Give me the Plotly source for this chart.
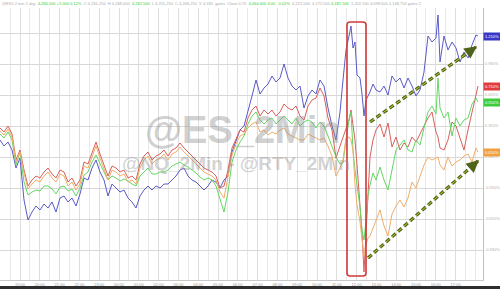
import plotly.graph_objects as go

# bar positions (time axis, in bars)
t = [0,4,8,12,16,20,24,28,32,36,40,44,48,52,56,60,64,68,72,76,80,84,88,92,96,100,104,108,112,116,
     120,124,128,132,136,140,144,148,152,156,160,164,168,172,176,180,184,188,192,196,200,204,208,212,
     216,220,224,228,232,236,240,244,248,252,256,260,264,268,272,276,280,284,288,292,296,300,304,308,
     312,316,320,324,328,332,336,340,343,346,349,351,353,355,357,360,362,364,366,368,370,373,376,380,
     384,388,392,396,400,404,408,412,416,420,424,428,432,436,438,440,444,448,452,456,460,464,468,472,476,478]

# % change series
es = [0.17,0.11,0.15,0.07,-0.11,-0.01,-0.43,-0.63,-0.55,-0.49,-0.53,-0.47,-0.51,-0.45,-0.55,-0.41,-0.39,-0.45,
      -0.41,-0.49,-0.37,-0.21,-0.23,-0.11,-0.03,-0.15,-0.23,-0.39,-0.27,-0.31,-0.35,-0.33,-0.41,-0.45,-0.51,
      -0.39,-0.33,-0.29,-0.33,-0.29,-0.31,-0.27,-0.27,-0.23,-0.19,-0.13,-0.11,-0.19,-0.23,-0.25,-0.29,-0.33,
      -0.29,-0.23,-0.25,-0.31,-0.23,-0.19,0.05,0.17,0.27,0.31,0.45,0.61,0.77,0.63,0.69,0.73,0.81,0.75,0.79,
      0.93,0.79,0.71,0.67,0.71,0.49,0.61,0.67,0.63,0.77,0.71,0.49,0.31,0.17,0.45,0.77,1.07,1.21,1.31,1.09,
      1.15,0.82,0.79,0.63,0.41,0.57,0.61,0.65,0.73,0.67,0.65,0.71,0.62,0.81,0.75,0.79,0.69,0.79,0.71,0.61,
      0.67,0.85,1.21,1.15,1.19,1.42,0.95,1.21,1.07,1.15,1.09,0.95,1.05,0.99,1.12,1.22,1.21]
red = [0.29,0.25,0.31,0.23,-0.03,0.07,-0.13,-0.29,-0.23,-0.19,-0.21,-0.15,-0.11,-0.17,-0.21,-0.13,-0.15,-0.25,
       -0.21,-0.29,-0.23,-0.05,-0.07,0.05,0.15,0.03,-0.07,-0.19,-0.09,-0.11,-0.15,-0.13,-0.21,-0.19,-0.23,
       -0.07,0.01,0.05,-0.03,0.01,0.03,0.07,0.01,0.07,0.09,0.14,0.09,0.05,0.01,-0.03,-0.07,-0.11,-0.13,-0.15,
       -0.19,-0.31,-0.29,-0.13,0.09,0.19,0.27,0.25,0.39,0.47,0.51,0.41,0.47,0.43,0.47,0.41,0.45,0.53,0.49,
       0.47,0.51,0.41,0.37,0.51,0.57,0.59,0.69,0.61,0.39,0.27,-0.01,0.11,0.20,0.27,0.37,0.47,0.31,0.17,-0.08,
       -0.48,-0.76,-1.15,-0.75,-0.33,0.00,0.17,0.27,0.33,0.20,0.34,0.10,0.20,0.07,0.14,0.10,0.20,0.15,0.23,
       0.31,0.39,0.45,0.25,0.20,0.09,0.07,0.17,0.35,0.31,0.19,0.07,0.27,0.45,0.65,0.71]
green = [0.23,0.19,0.25,0.17,-0.08,0.05,-0.25,-0.38,-0.35,-0.33,-0.34,-0.29,-0.29,-0.32,-0.37,-0.30,-0.29,-0.34,
         -0.32,-0.39,-0.31,-0.18,-0.15,-0.05,0.02,-0.07,-0.15,-0.23,-0.19,-0.21,-0.24,-0.22,-0.24,-0.27,-0.29,
         -0.19,-0.15,-0.11,-0.17,-0.17,-0.15,-0.15,-0.13,-0.09,-0.07,-0.05,-0.08,-0.10,-0.13,-0.16,-0.20,-0.23,
         -0.21,-0.23,-0.29,-0.43,-0.55,-0.35,-0.05,0.07,0.15,0.21,0.33,0.41,0.45,0.37,0.33,0.37,0.39,0.33,0.37,
         0.41,0.37,0.33,0.39,0.31,0.35,0.37,0.35,0.29,0.35,0.31,0.21,0.11,0.00,-0.07,-0.06,0.17,0.37,0.45,0.07,
         -0.13,-0.29,-0.50,-0.73,-0.83,-0.63,-0.38,-0.28,-0.16,-0.23,-0.10,-0.23,-0.33,-0.13,0.07,0.12,0.17,
         0.07,0.05,0.17,0.12,0.29,0.45,0.51,0.43,0.79,0.49,0.39,0.45,0.21,0.39,0.31,0.37,0.39,0.53,0.59,0.55]
orange = [0.26,0.22,0.28,0.20,-0.05,0.05,-0.16,-0.32,-0.27,-0.23,-0.25,-0.19,-0.15,-0.21,-0.25,-0.17,-0.19,-0.29,
          -0.25,-0.33,-0.27,-0.09,-0.11,0.01,0.11,-0.01,-0.11,-0.23,-0.13,-0.15,-0.19,-0.17,-0.25,-0.23,-0.27,
          -0.11,-0.03,0.01,-0.07,-0.03,-0.01,0.03,-0.03,0.03,0.05,0.10,0.05,0.01,-0.03,-0.07,-0.11,-0.15,-0.17,
          -0.19,-0.23,-0.35,-0.41,-0.21,0.02,0.13,0.21,0.23,0.29,0.33,0.35,0.25,0.27,0.22,0.25,0.23,0.27,0.29,
          0.23,0.21,0.19,0.17,0.17,0.23,0.21,0.19,0.17,0.19,0.11,0.01,-0.19,-0.11,-0.03,0.19,0.20,0.17,0.07,
          -0.28,-0.48,-0.65,-0.83,-0.99,-0.88,-0.81,-0.79,-0.71,-0.65,-0.53,-0.69,-0.79,-0.57,-0.49,-0.43,-0.50,
          -0.41,-0.25,-0.31,-0.19,-0.08,0.00,-0.03,-0.01,0.00,-0.08,-0.13,0.00,-0.09,-0.05,-0.03,0.01,0.03,-0.05,
          0.09,0.05]

tick_labels = ["19:00","20:00","21:00","22:00","23:00","00:00","01:00","02:00","03:00","04:00","05:00","06:00",
               "07:00","08:00","09:00","10:00","11:00","12:00","13:00","14:00","15:00","16:00","17:00"]

# right-axis grid levels and their labels (top one hidden behind the value tag)
grid_levels = [1.24, 0.93, 0.62, 0.31, 0.0, -0.31, -0.62, -0.93]
grid_labels = ["", "0.930%", "0.620%", "0.310%", "0.000%", "-0.310%", "-0.620%", "-0.930%"]

series = [("ES", es, "#5a5ac8", "#3838c8"),
          ("RTY", red, "#d8605c", "#e03c3c"),
          ("NQ", green, "#62d862", "#3ccc3c"),
          ("YM", orange, "#f2ad68", "#f0a040")]

fig = go.Figure()
for name, vals, col, _ in series:
    fig.add_trace(go.Scatter(x=t, y=vals, mode="lines", name=name,
                             line=dict(color=col, width=1), showlegend=False))

# watermarks
fig.add_annotation(x=242, y=0.27, xref="x", yref="y", text="<b>@ES_2Min</b>", showarrow=False,
                   font=dict(family="Liberation Sans", size=38, color="rgba(150,150,150,0.45)"))
fig.add_annotation(x=236, y=-0.06, xref="x", yref="y", text="<b>@NQ_2Min - @RTY_2Min</b>", showarrow=False,
                   font=dict(family="Liberation Sans", size=19, color="rgba(150,150,150,0.42)"))

# right-edge value labels
for name, vals, col, lab in series:
    fig.add_annotation(x=1.0, xref="paper", y=vals[-1], yref="y", xanchor="left", xshift=0,
                       text=f"{vals[-1]:.3f}%", showarrow=False, bgcolor=lab, borderpad=1,
                       font=dict(family="Liberation Sans", size=4, color="white"))

# header strip
hdr = ("<span style='color:#aaa'>@ES1 2 min 1 day</span>  <span style='color:#3c3'>4,266,500 +5.000 0.12%</span>"
       "<span style='color:#aaa'>  O 4,261,250  H 4,268,000 </span> <span style='color:#3c3'>4,262,500</span>"
       "<span style='color:#aaa'>  L 4,251,250  C 4,266,250  V 4,330  gates  Close 0.70</span>"
       "  <span style='color:#3c3'>4,064,000 4.00   0.02%</span><span style='color:#aaa'>  4,221,500  4,172,500 </span>"
       "<span style='color:#3c3'>4,182,500</span><span style='color:#aaa'>  1,202,500 4,098,500 4,148,750 gates 2</span>")
fig.add_annotation(x=0, y=1.0, xref="paper", yref="paper", xanchor="left", yanchor="bottom", yshift=0,
                   text=hdr, showarrow=False, font=dict(family="Liberation Sans", size=4, color="#aaa"))

# highlight box (rounded)
bx0, bx1, by0, by1 = 347, 366, -1.19, 1.35
fig.add_shape(type="path",
              path=(f"M {bx0+3},{by1} L {bx1-3},{by1} Q {bx1},{by1} {bx1},{by1-0.03} "
                    f"L {bx1},{by0+0.03} Q {bx1},{by0} {bx1-3},{by0} L {bx0+3},{by0} "
                    f"Q {bx0},{by0} {bx0},{by0+0.03} L {bx0},{by1-0.03} Q {bx0},{by1} {bx0+3},{by1} Z"),
              xref="x", yref="y", line=dict(color="#d23a3a", width=1.6))

# trend arrows
arrows = [(370, 0.35, 476, 1.10), (368, -1.01, 478, -0.04)]
for x0, y0, x1, y1 in arrows:
    fig.add_shape(type="line", x0=x0, y0=y0, x1=x1, y1=y1, xref="x", yref="y",
                  line=dict(color="#4f6418", width=3.2, dash="5px,3px"))
    fig.add_shape(type="line", x0=x0, y0=y0, x1=x1, y1=y1, xref="x", yref="y",
                  line=dict(color="#b8d03a", width=1, dash="5px,3px"))
    fig.add_annotation(x=x1 + 1, y=y1 + (y1 - y0) / (x1 - x0) * 1, ax=x1 - 6, ay=y1 - (y1 - y0) / (x1 - x0) * 6,
                       xref="x", yref="y", axref="x", ayref="y", text="", showarrow=True,
                       arrowhead=2, arrowsize=1, arrowwidth=2.5, arrowcolor="#4f6418")

# bottom dark bar
fig.add_shape(type="rect", xref="paper", yref="paper", x0=-0.01, x1=1.05, y0=-0.035, y1=-0.022,
              fillcolor="#2e2e2e", line=dict(width=0), layer="above")

fig.update_layout(
    width=500, height=289,
    margin=dict(l=0, r=17, t=8, b=9),
    paper_bgcolor="white", plot_bgcolor="white",
    xaxis=dict(range=[0, 483], tickvals=[20 + 19.8 * i for i in range(len(tick_labels))],
               ticktext=tick_labels, showgrid=True, gridcolor="#dedede", gridwidth=1,
               minor=dict(dtick=9.9, tick0=10.1, showgrid=True, gridcolor="#e8e8e8"),
               tickfont=dict(family="Liberation Sans", size=4, color="#999"),
               showline=True, linecolor="#c8c8c8", zeroline=False, ticks=""),
    yaxis=dict(range=[-1.23, 1.49], side="right", tickvals=grid_levels, ticktext=grid_labels,
               showgrid=True, gridcolor="#d8d8d8", zeroline=False, showline=True, linecolor="#c0c0c0",
               tickfont=dict(family="Liberation Sans", size=4, color="#b0b0b0"), ticks=""),
)

fig.write_html("out.html")
